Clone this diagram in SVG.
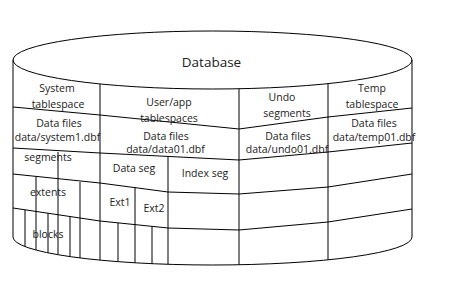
<svg xmlns="http://www.w3.org/2000/svg" width="449" height="285" viewBox="0 0 449 285">
<style>
.ln{fill:none;stroke:#000;stroke-width:1}
.t{font-family:"Open Sans","Liberation Sans",sans-serif;font-size:10.5px;fill:#222;text-anchor:middle}
.title{font-size:13.5px}
</style>
<rect width="449" height="285" fill="#fff"/>
<g id="cylinder" class="ln">
<ellipse cx="212.5" cy="60" rx="199.5" ry="29"/>
<path d="M13,60 V237 A199.5,28 0 0 0 412,237 V60"/>
</g>
<g id="grid" class="ln">
<line x1="100" y1="84" x2="100" y2="260.1"/>
<line x1="239" y1="88.7" x2="239" y2="264.8"/>
<line x1="328" y1="83.6" x2="328" y2="259.8"/>
<polyline points="13,107 100,115 239,129 328,117 412,108"/>
<polyline points="13,148 100,153 239,160 328,152 412,143"/>
<polyline points="13,174 100,183 168,192 239,194 328,187 412,174"/>
<polyline points="13,208 100,221 168,228 239,230 328,222 412,209"/>
<line x1="58" y1="152" x2="58" y2="254.7"/>
<line x1="168" y1="156.4" x2="168" y2="264.3"/>
<line x1="36" y1="176.4" x2="36" y2="250"/>
<line x1="80" y1="182" x2="80" y2="257.9"/>
<line x1="135" y1="187.6" x2="135" y2="262.8"/>
<line x1="25" y1="209.8" x2="25" y2="246.6"/>
<line x1="48" y1="213.2" x2="48" y2="252.8"/>
<line x1="70" y1="216.5" x2="70" y2="256.6"/>
<line x1="118" y1="222.9" x2="118" y2="261.7"/>
<line x1="152" y1="226.4" x2="152" y2="263.7"/>
</g>
<g id="database"><text class="t title" x="211.5" y="67">Database</text></g>
<g id="system">
<text class="t" x="57" y="92">System</text>
<text class="t" x="58" y="108">tablespace</text>
<text class="t" x="59" y="127">Data files</text>
<text class="t" x="57.5" y="141">data/system1.dbf</text>
<text class="t" x="48" y="161">segments</text>
<text class="t" x="48" y="196">extents</text>
<text class="t" x="48" y="238">blocks</text>
</g>
<g id="userapp">
<text class="t" x="169" y="106">User/app</text>
<text class="t" x="169" y="122">tablespaces</text>
<text class="t" x="166" y="140">Data files</text>
<text class="t" x="165.5" y="153">data/data01.dbf</text>
<text class="t" x="134" y="172">Data seg</text>
<text class="t" x="205" y="177">Index seg</text>
<text class="t" x="120" y="206">Ext1</text>
<text class="t" x="154" y="212">Ext2</text>
</g>
<g id="undo">
<text class="t" x="282" y="101">Undo</text>
<text class="t" x="287" y="117">segments</text>
<text class="t" x="288" y="140">Data files</text>
<text class="t" x="287" y="153">data/undo01.dbf</text>
</g>
<g id="temp">
<text class="t" x="372" y="92">Temp</text>
<text class="t" x="372" y="108">tablespace</text>
<text class="t" x="374" y="127">Data files</text>
<text class="t" x="374" y="141">data/temp01.dbf</text>
</g>
</svg>
